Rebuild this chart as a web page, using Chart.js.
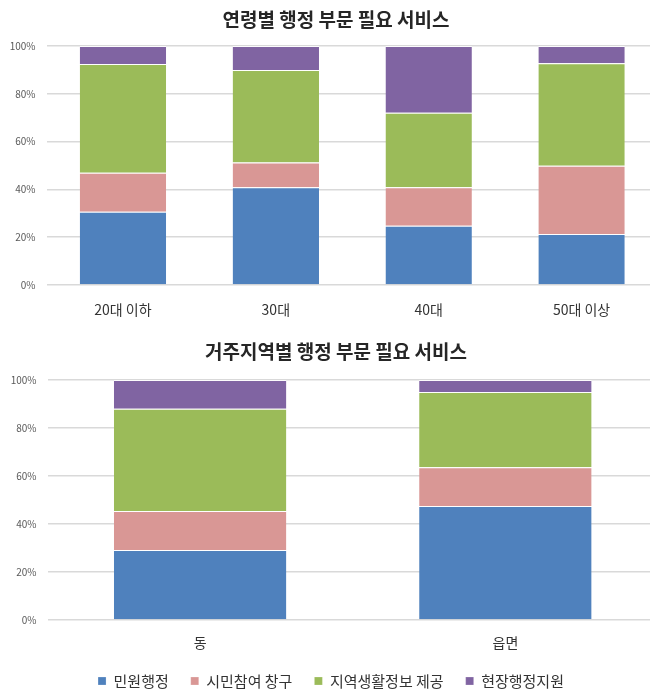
<!DOCTYPE html>
<html>
<head>
<meta charset="utf-8">
<script src="https://cdn.jsdelivr.net/npm/chart.js@4"></script>
<style>
  html, body { margin: 0; padding: 0; background: #fff; overflow: hidden; width: 650px; height: 691px; }
  canvas { position: absolute; left: 0; }
  #ageChart { top: 0; }
  #regionChart { top: 330px; }
</style>
</head>
<body>
<canvas id="ageChart" width="660" height="330"></canvas>
<canvas id="regionChart" width="660" height="361"></canvas>
<script>
// series names
const seriesNames = ['민원행정', '시민참여 창구', '지역생활정보 제공', '현장행정지원'];
const seriesColors = ['#4f81bd', '#d99795', '#9bbb59', '#8064a2'];

// 연령별 (%)
const ageLabels = ['20대 이하', '30대', '40대', '50대 이상'];
const ageCivil = [30.7, 40.9, 24.8, 21.3];
const ageParticipation = [16.3, 10.4, 16.1, 28.6];
const ageLocalInfo = [45.5, 38.7, 31.2, 42.9];
const ageFieldSupport = [7.5, 10.0, 27.9, 7.2];

// 거주지역별 (%)
const regionLabels = ['동', '읍면'];
const regionCivil = [29.1, 47.5];
const regionParticipation = [16.3, 16.1];
const regionLocalInfo = [42.6, 31.4];
const regionFieldSupport = [12.0, 5.0];

const yTicks = [0, 20, 40, 60, 80, 100];

Chart.defaults.font.family = "'Noto Sans CJK KR', 'Noto Sans', sans-serif";
Chart.defaults.color = '#404040';

// the canvas is a bit wider than the window, so re-centre title and legend
function layoutTweaks(legendShrink) {
    return {
        id: 'layoutTweaks',
        beforeInit(chart) {
            if (!chart.legend) return;
            const fit = chart.legend.fit;
            chart.legend.fit = function () {
                fit.call(this);
                if (this.options.display) this.height -= legendShrink;
            };
        },
        afterLayout(chart) {
            if (chart.titleBlock) chart.titleBlock.right = chart.titleBlock.left + 672;
            if (chart.legend) chart.legend.right = chart.legend.left + 662;
        }
    };
}

function makeDatasets(values) {
    return values.map((data, i) => ({
        label: seriesNames[i],
        data: data,
        backgroundColor: seriesColors[i],
        borderColor: 'rgba(255,255,255,0.85)',
        borderWidth: { top: 1, bottom: 0, left: 0, right: 0 },
        borderSkipped: false,
        barPercentage: 0.565,
        categoryPercentage: 1.0
    }));
}

function makeOptions(cfg) {
    return {
        responsive: false,
        animation: false,
        layout: { padding: { left: 0, right: 2, top: 0, bottom: 0 } },
        plugins: {
            title: {
                display: true,
                text: cfg.title,
                color: '#262626',
                font: { size: 19, weight: 'bold' },
                padding: { top: cfg.titleTop, bottom: cfg.titleBottom }
            },
            legend: {
                display: cfg.legend,
                position: 'bottom',
                labels: {
                    boxWidth: 8,
                    boxHeight: 8,
                    padding: 22,
                    color: '#333333',
                    font: { size: 15 }
                }
            },
            tooltip: { enabled: false }
        },
        scales: {
            x: {
                stacked: true,
                grid: { display: false, drawTicks: false },
                border: { display: false },
                ticks: { padding: cfg.xPad, color: '#333333', font: { size: 14 } },
                afterFit: (scale) => { scale.height = cfg.xHeight; }
            },
            y: {
                stacked: true,
                min: 0,
                max: 100,
                afterBuildTicks: (axis) => { axis.ticks = yTicks.map(v => ({ value: v })); },
                afterFit: (scale) => { scale.width = cfg.yWidth; },
                grid: { color: '#d9d9d9', lineWidth: 1.5, drawTicks: false },
                border: { display: false },
                ticks: {
                    padding: 11,
                    color: '#595959',
                    font: { size: 10 },
                    callback: (v) => v + '%'
                }
            }
        }
    };
}

new Chart(document.getElementById('ageChart').getContext('2d'), {
    type: 'bar',
    data: {
        labels: ageLabels,
        datasets: makeDatasets([ageCivil, ageParticipation, ageLocalInfo, ageFieldSupport])
    },
    options: makeOptions({
        title: '연령별 행정 부문 필요 서비스', legend: false,
        titleTop: 8.1, titleBottom: 15.1, xPad: 16.6, xHeight: 45, yWidth: 46.5
    }),
    plugins: [layoutTweaks(0)]
});

new Chart(document.getElementById('regionChart').getContext('2d'), {
    type: 'bar',
    data: {
        labels: regionLabels,
        datasets: makeDatasets([regionCivil, regionParticipation, regionLocalInfo, regionFieldSupport])
    },
    options: makeOptions({
        title: '거주지역별 행정 부문 필요 서비스', legend: true,
        titleTop: 10.6, titleBottom: 16.6, xPad: 14.6, xHeight: 31.6, yWidth: 47.5
    }),
    plugins: [layoutTweaks(7.5)]
});
</script>
</body>
</html>
